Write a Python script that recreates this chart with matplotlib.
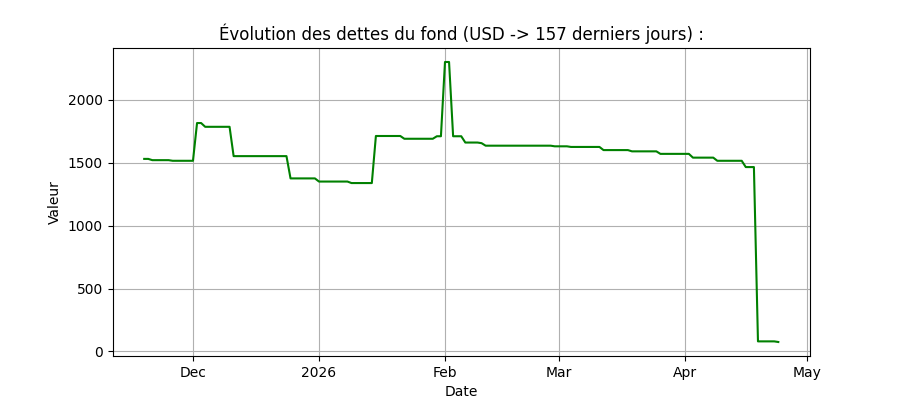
import matplotlib
matplotlib.use("Agg")
import matplotlib.pyplot as plt
import matplotlib.dates as mdates
import pandas as pd

# change points (date, value) of the debt series; held until the next change
change_dates = ["2025-11-19", "2025-11-21", "2025-11-26", "2025-12-02", "2025-12-04",
                "2025-12-11", "2025-12-25", "2026-01-01", "2026-01-09", "2026-01-15",
                "2026-01-22", "2026-01-30", "2026-02-01", "2026-02-03", "2026-02-06",
                "2026-02-10", "2026-02-11", "2026-02-28", "2026-03-04", "2026-03-12",
                "2026-03-19", "2026-03-26", "2026-04-03", "2026-04-09", "2026-04-16",
                "2026-04-19", "2026-04-24"]
change_values = [1530, 1520, 1515, 1815, 1785,
                 1552, 1375, 1350, 1338, 1712,
                 1690, 1710, 2300, 1710, 1660,
                 1655, 1635, 1630, 1625, 1600,
                 1590, 1570, 1540, 1515, 1465,
                 80, 75]
start_date = "2025-11-19"
end_date = "2026-04-24"

s = pd.Series(change_values, index=pd.to_datetime(change_dates))
days = pd.date_range(start_date, end_date, freq="D")
series = s.reindex(days).ffill()

fig, ax = plt.subplots(figsize=(9, 4), dpi=100)
ax.plot(series.index, series.values, color="green")
ax.set_title("Évolution des dettes du fond (USD -> 157 derniers jours) :")
ax.set_xlabel("Date")
ax.set_ylabel("Valeur")
ax.grid(True)
ax.xaxis.set_major_locator(mdates.MonthLocator())
ax.xaxis.set_major_formatter(mdates.ConciseDateFormatter(ax.xaxis.get_major_locator()))
fig.savefig("out.png")
